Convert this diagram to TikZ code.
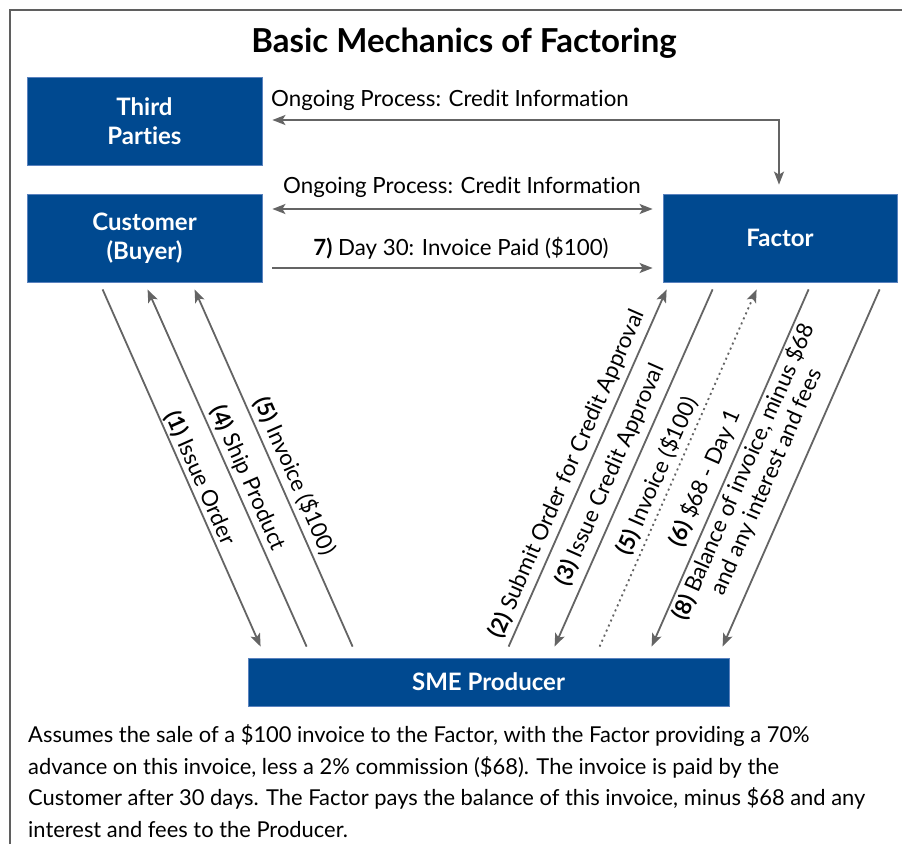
\documentclass[tikz,border=0pt]{standalone}
\usepackage{fontspec}
\setmainfont{Lato}[Ligatures={NoCommon,NoContextual}]
\usetikzlibrary{arrows.meta,calc}
\definecolor{boxblue}{RGB}{0,73,144}
\definecolor{boxedge}{RGB}{90,130,190}
\definecolor{arrgray}{RGB}{100,100,100}
\definecolor{framegray}{RGB}{95,95,95}
\newcommand{\tinolig}{t\kern0pt i}
\begin{document}
\begin{tikzpicture}[x=1pt,y=-1pt,
  box/.style={fill=boxblue, draw=boxedge, line width=0.8pt, text=white,
    font=\fontsize{24}{29}\selectfont\bfseries, align=center, inner sep=0pt},
  lab/.style={font=\fontsize{22.3}{25}\selectfont, text=black, inner sep=0pt, align=center},
  arr/.style={draw=arrgray, line width=1.8pt, -{Stealth[length=13pt,width=10pt,inset=3pt]}},
  darr/.style={draw=arrgray, line width=1.8pt, {Stealth[length=13pt,width=10pt,inset=3pt]}-{Stealth[length=13pt,width=10pt,inset=3pt]}},
  dotarr/.style={arr, dash pattern=on 2pt off 3.5pt}
]
\useasboundingbox (0,0) rectangle (902,844);
\fill[white] (0,0) rectangle (902,844);
\draw[framegray, line width=2pt] (10,844) -- (10,10) -- (902,10);

\node[font=\fontsize{33}{38}\selectfont\bfseries] (title) at (464,43) {Basic Mechanics of Factoring};

\node[box, minimum width=235pt, minimum height=88pt] (tp) at (144.5,121) {Third\\Parties};
\node[box, minimum width=235pt, minimum height=88pt] (cust) at (144.5,238) {Customer\\(Buyer)};
\node[box, minimum width=234pt, minimum height=88pt] (factor) at (780,238) {Factor};
\node[box, minimum width=481pt, minimum height=48pt] (sme) at (488.5,682) {SME Producer};

% horizontal connectors
\draw[darr] ($(tp.east)+(10,-1)$) -| ($(factor.north)+(-1,-9)$);
\draw[darr] ($(cust.east)+(10,-29)$) -- ($(factor.west)+(-10,-29)$);
\draw[arr] ($(cust.east)+(10,30)$) -- ($(factor.west)+(-10,30)$);
\node[lab] (h1) at (450,100) {Ongoing Process: Credit Informa\tinolig on};
\node[lab] (h2) at (462,187) {Ongoing Process: Credit Informa\tinolig on};
\node[lab] (h3) at (461,248) {\textbf{7)} Day 30: Invoice Paid (\$100)};

% left diagonals
\draw[arr] ($(cust.south west)+(76,7)$) -- ($(sme.north west)+(13,-11)$);
\draw[arr] ($(sme.north west)+(59,-11)$) -- ($(cust.south west)+(121,7)$);
\draw[arr] ($(sme.north west)+(105,-11)$) -- ($(cust.south west)+(168,7)$);
\node[lab, rotate=-66.2] (l1) at (200,478) {\textbf{(1)} Issue Order};
\node[lab, rotate=-66.2] (l4) at (248,478) {\textbf{(4)} Ship Product};
\node[lab, rotate=-66.2] (l5) at (295,476) {\textbf{(5)} Invoice (\$100)};

% right diagonals
\draw[arr] ($(sme.north west)+(261,-11)$) -- ($(factor.south west)+(4,7)$);
\draw[arr] ($(factor.south west)+(50,7)$) -- ($(sme.north west)+(307,-11)$);
\draw[dotarr] ($(sme.north west)+(352,-11)$) -- ($(factor.south west)+(94,7)$);
\draw[arr] ($(factor.south west)+(146,7)$) -- ($(sme.north west)+(404,-11)$);
\draw[arr] ($(factor.south west)+(217,7)$) -- ($(sme.north west)+(475,-11)$);
\node[lab, rotate=66.3] (r2) at (567,474) {\textbf{(2)} Submit Order for Credit Approval};
\node[lab, rotate=66.3] (r3) at (610,475) {\textbf{(3)} Issue Credit Approval};
\node[lab, rotate=66.3] (r5) at (657,476) {\textbf{(5)} Invoice (\$100)};
\node[lab, rotate=66.3] (r6) at (705,478) {\textbf{(6)} \$68 - Day 1};
\node[lab, rotate=66.3] (r8) at (755,477) {\textbf{(8)} Balance of invoice, minus \$68\\and any interest and fees};

% note
\node[font=\fontsize{21.9}{31.7}\selectfont, align=left, anchor=west, inner sep=0pt] (note) at (28,781)
 {Assumes the sale of a \$100 invoice to the Factor, with the Factor providing a 70\%\\
  advance on this invoice, less a 2\% commission (\$68). The invoice is paid by the\\
  Customer after 30 days. The Factor pays the balance of this invoice, minus \$68 and any\\
  interest and fees to the Producer.};
\end{tikzpicture}
\end{document}
